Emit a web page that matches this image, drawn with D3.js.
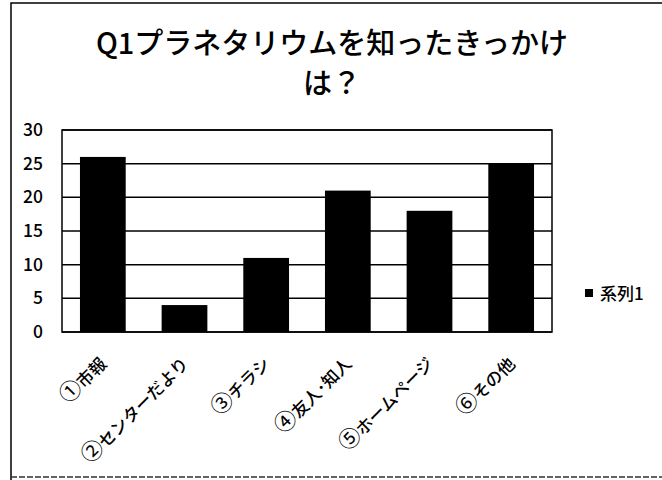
<!DOCTYPE html>
<html><head><meta charset="utf-8">
<script src="https://cdn.jsdelivr.net/npm/d3@7"></script>
<style>body{margin:0;background:#fff}svg{display:block}</style>
</head><body>
<script>
const categories = ["①市報","②センターだより","③チラシ","④友人･知人","⑤ホームページ","⑥その他"];
const values = [26, 4, 11, 21, 18, 25];
const yTicks = [0, 5, 10, 15, 20, 25, 30];
const titleLines = ["Q1プラネタリウムを知ったきっかけ", "は？"];
const seriesName = "系列1";

const W = 662, H = 480;
const font = "'Noto Sans CJK JP', 'Noto Sans', sans-serif";
const svg = d3.select("body").append("svg").attr("width", W).attr("height", H);

// outer frame
svg.append("path").attr("d", `M11,${H} L11,3 L${W},3`).attr("fill","none").attr("stroke","#000").attr("stroke-width",1.5);
svg.append("line").attr("x1",11).attr("x2",W).attr("y1",477).attr("y2",477).attr("stroke","#333").attr("stroke-width",1.5).attr("stroke-dasharray","6,2");

const plot = {l:62, r:552, t:130, b:332};
const x = d3.scaleBand().domain(categories).range([plot.l, plot.r]).paddingInner(0.44).paddingOuter(0.22);
const y = d3.scaleLinear().domain([0,30]).range([plot.b, plot.t]);

// gridlines
svg.append("g").selectAll("line").data(yTicks).join("line")
  .attr("x1", plot.l).attr("x2", plot.r)
  .attr("y1", d=>y(d)).attr("y2", d=>y(d))
  .attr("stroke","#000").attr("stroke-width",1.5);
svg.append("rect").attr("x",plot.l).attr("y",plot.t).attr("width",plot.r-plot.l).attr("height",plot.b-plot.t)
  .attr("fill","none").attr("stroke","#000").attr("stroke-width",1.5);

// y axis labels
const yAxis = d3.axisLeft(y).tickValues(yTicks).tickSize(0).tickPadding(0);
const ga = svg.append("g").attr("transform",`translate(43,0)`).call(yAxis);
ga.select(".domain").remove();
ga.selectAll("text").attr("font-family",font).attr("font-size",17.5).attr("font-weight",500).attr("fill","#000");

// bars
svg.append("g").selectAll("rect").data(values).join("rect")
  .attr("x",(d,i)=>x(categories[i])).attr("width",x.bandwidth())
  .attr("y",d=>y(d)).attr("height",d=>y(0)-y(d)).attr("fill","#000");

// x labels
const xAxis = d3.axisBottom(x).tickSize(0).tickPadding(0).tickFormat(() => "");
const gx = svg.append("g").attr("transform",`translate(0,${plot.b})`).call(xAxis);
gx.select(".domain").remove();
gx.selectAll(".tick text").each(function(d) {
  const t = d3.select(this);
  t.attr("font-family",font).attr("font-size",17).attr("font-weight",500).attr("fill","#000")
   .attr("text-anchor","end").attr("dy",null).attr("y",null)
   .attr("transform","translate(5,33) rotate(-45)");
  t.append("tspan").attr("font-size",22).attr("font-weight",400).text(d.slice(0,1));
  t.append("tspan").text(d.slice(1));
});

// title
svg.append("g").selectAll("text").data(titleLines).join("text")
  .attr("x",332).attr("y",(d,i)=>54+i*40).attr("text-anchor","middle")
  .attr("font-family",font).attr("font-size",29).attr("font-weight",500).attr("fill","#000").text(d=>d);

// legend
svg.append("rect").attr("x",585).attr("y",289).attr("width",8).attr("height",8).attr("fill","#000");
svg.append("text").attr("x",600).attr("y",299.5).attr("font-family",font).attr("font-size",17).attr("font-weight",500).attr("fill","#000").text(seriesName);
</script>
</body></html>
